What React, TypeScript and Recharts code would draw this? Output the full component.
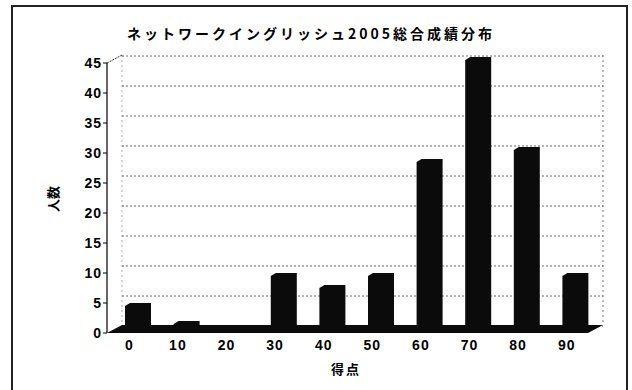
import React from 'react';
import { Bar, BarChart, CartesianGrid, XAxis, YAxis } from 'recharts';

// 得点帯ごとの人数
const scoreBands = ['0', '10', '20', '30', '40', '50', '60', '70', '80', '90'];
const headcounts = [4, 1, 0, 9, 7, 9, 28, 45, 30, 9];
const countTicks = [0, 5, 10, 15, 20, 25, 30, 35, 40, 45];

const data = scoreBands.map((band, i) => ({ band, count: headcounts[i] }));

const W = 632;
const H = 390;
const DEPTH_X = 15; // 奥行きのずれ
const DEPTH_Y = 7;
const FLOOR_TOP = 325;
const FLOOR_BOTTOM = 333;
const WALL_LEFT = 122;
const WALL_RIGHT = 603;
const WALL_TOP = 55;
const AXIS_X = 107;

const numFont = { fontFamily: '"Liberation Sans", Arial, sans-serif', fontWeight: 700, fontSize: 14, fill: '#000' };
const jpFont = { fontFamily: '"Noto Sans CJK JP", sans-serif', fontWeight: 700, fill: '#000' };

const YTick = ({ y, payload }: any) => (
   <g>
      <line x1={AXIS_X - 4} x2={AXIS_X} y1={y + DEPTH_Y} y2={y + DEPTH_Y} stroke="#000" />
      <text x={AXIS_X - 5} y={y + DEPTH_Y} textAnchor="end" dominantBaseline="central" letterSpacing={1} style={numFont}>
         {payload.value}
      </text>
   </g>
);

const XTick = ({ x, payload }: any) => (
   <text x={x - 9} y={345} textAnchor="middle" dominantBaseline="central" letterSpacing={1} style={numFont}>
      {payload.value}
   </text>
);

// 前面＋左上の面取りで立体風の柱にする
const Column = ({ x, y, width, height }: any) => {
   const top = y + 1;
   const bottom = y + height + 1;
   const pts = [
      [x, top + 3],
      [x + 5, top],
      [x + width, top],
      [x + width, bottom],
      [x, bottom],
   ]
      .map((p) => p.join(','))
      .join(' ');
   return <polygon points={pts} fill="#0b0b0b" />;
};

const GridLine = (p: any) => (
   <line key={p.key} x1={p.x1 + 8} x2={p.x2 + 3} y1={p.y1} y2={p.y2} stroke="#666" strokeDasharray="2 2" />
);

export default function App() {
   return (
      <div style={{ position: 'absolute', left: 0, top: 0, width: W, height: H, background: '#fff', overflow: 'hidden' }}>
         <svg width={W} height={H} style={{ position: 'absolute', left: 0, top: 0 }}>
            <rect x={12} y={6} width={615} height={H + 10} fill="none" stroke="#222" strokeWidth={2} />
            <line x1={WALL_LEFT} x2={WALL_LEFT} y1={WALL_TOP} y2={FLOOR_TOP} stroke="#aaa" strokeDasharray="2 3" />
            <line x1={WALL_RIGHT} x2={WALL_RIGHT} y1={WALL_TOP} y2={FLOOR_TOP} stroke="#777" strokeDasharray="2 3" />
            <text x={311} y={33} textAnchor="middle" dominantBaseline="central" fontSize={14} letterSpacing={3} style={jpFont}>
               ネットワークイングリッシュ2005総合成績分布
            </text>
            <text
               x={52}
               y={199}
               textAnchor="middle"
               dominantBaseline="central"
               fontSize={13}
               transform="rotate(-90 52 199)"
               style={jpFont}
            >
               人数
            </text>
            <text x={346} y={368} textAnchor="middle" dominantBaseline="central" fontSize={13} letterSpacing={2} style={jpFont}>
               得点
            </text>
         </svg>
         <div style={{ position: 'absolute', left: 0, top: 0 }}>
            <BarChart width={W} height={H} data={data} margin={{ top: 56, right: 32, bottom: 34, left: 14 }}>
               <CartesianGrid vertical={false} horizontal={GridLine} />
               <XAxis dataKey="band" height={30} axisLine={false} tickLine={false} tick={<XTick />} interval={0} />
               <YAxis width={100} domain={[0, 45]} ticks={countTicks} axisLine={false} tickLine={false} tick={<YTick />} />
               <Bar dataKey="count" barSize={26} shape={<Column />} isAnimationActive={false} />
            </BarChart>
         </div>
         <svg width={W} height={H} style={{ position: 'absolute', left: 0, top: 0 }}>
            <polygon
               points={`${AXIS_X},${FLOOR_BOTTOM} ${AXIS_X + DEPTH_X},${FLOOR_TOP} ${WALL_RIGHT},${FLOOR_TOP} ${WALL_RIGHT - DEPTH_X},${FLOOR_BOTTOM}`}
               fill="#0b0b0b"
            />
            <line x1={AXIS_X} x2={AXIS_X} y1={WALL_TOP + DEPTH_Y + 1} y2={FLOOR_BOTTOM} stroke="#000" strokeWidth={1.2} />
            <line x1={AXIS_X} x2={AXIS_X + DEPTH_X} y1={WALL_TOP + DEPTH_Y + 1} y2={WALL_TOP} stroke="#333" strokeDasharray="2 1" />
         </svg>
      </div>
   );
}
